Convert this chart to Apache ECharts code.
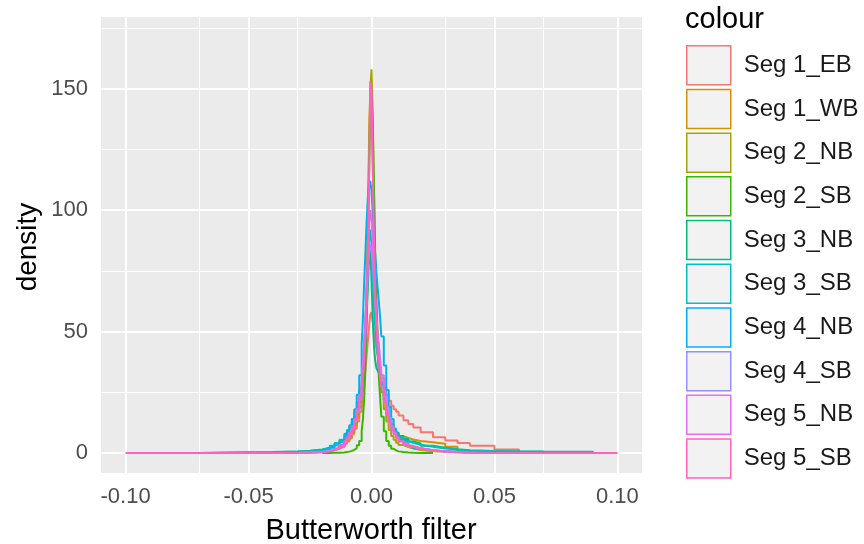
<!DOCTYPE html>
<html>
<head>
<meta charset="utf-8">
<script src="https://cdn.jsdelivr.net/npm/echarts@6/dist/echarts.min.js"></script>
<style>html,body{margin:0;padding:0;background:#fff;}#c{width:864px;height:544px;}</style>
</head>
<body>
<div id="c"></div>
<script>
// bin edges (x) shared by all series
const binEdges = [-0.100,-0.070,-0.050,-0.040,-0.030,-0.025,-0.020,-0.017,-0.015,-0.013,
  -0.011,-0.010,-0.009,-0.008,-0.007,-0.006,-0.005,
  -0.0040,-0.0035,-0.0030,-0.0025,-0.0020,-0.0015,-0.0010,-0.0005,0,0.0005,0.0010,0.0015,0.0020,0.0025,0.0030,0.0035,
  0.004,0.005,0.006,0.007,0.008,0.009,0.010,
  0.011,0.013,0.015,0.017,0.020,0.025,0.030,0.035,0.040,0.050,0.060,0.070,0.090,
  0.100];

const seriesNames = ['Seg 1_EB','Seg 1_WB','Seg 2_NB','Seg 2_SB','Seg 3_NB','Seg 3_SB','Seg 4_NB','Seg 4_SB','Seg 5_NB','Seg 5_SB'];
const seriesColors = ['#F8766D','#D89000','#A3A500','#39B600','#00BF7D','#00BFC4','#00B0F6','#9590FF','#E76BF3','#FF62BC'];

const seg1EB = [null,null,null,null,0.2,0.4,0.8,1.3,1.9,2.7,
  3.8,4.8,6,7.8,10,13,17,
  21,25,29,34,40,46,52,57,58,54,50,46,43,40,37,34.5,
  31,27,24,21.5,19.5,18,17,
  15.5,13.5,12,10.5,8.6,6.5,5.2,4.2,3.0,1.5,null,null,null];
const seg1WB = [null,null,null,null,0.2,0.4,0.8,1.4,2,3,
  4.2,5.2,6.5,8.5,11,14.5,19,
  24,30,38,48,64,90,130,149,142,118,92,72,58,48,41,35,
  28,22,17.5,14,11.5,9.5,8.2,
  7,6.2,5.6,5,4.5,3.8,2.6,null,null,null,null,null,null];
const seg2NB = [null,null,null,0.1,0.3,0.5,0.9,1.5,2.2,3.2,
  4.5,5.5,7,9,12,16,21,
  27,33,41,52,68,92,122,149,158,140,110,82,62,49,40,33,
  25,18,13,9.5,7,5.5,4.3,
  3.3,2.5,1.9,1.3,0.8,0.5,0.3,0.15,0.08,null,null,null,null];
const seg2SB = [null,null,null,null,null,null,0.05,0.1,0.15,0.25,
  0.4,0.6,0.9,1.3,2,3.2,5,
  9,14,22,34,52,80,115,140,148,135,108,80,58,42,31,23,
  15,9,5,3,1.8,1.1,0.7,
  0.4,0.25,0.15,0.08,0.03,null,null,null,null,null,null,null,null];
const seg3NB = [null,0.3,0.4,0.7,1.0,1.5,2.2,3,4,5.2,
  7.5,8.8,10.5,12.5,15,18,22,
  27,32,38,46,56,68,80,84,72,55,44,38,35,34,33,32,
  29,24,19,15,12,10,8.5,
  7,5.8,4.8,4,3,2.2,1.6,1.2,0.9,0.7,0.6,0.5,null];
const seg3SB = [null,0.25,0.35,0.6,0.9,1.4,2.1,3,4.2,5.5,
  8,9.5,11.5,14,17,21,26,
  31,37,44,53,64,77,89,92,86,72,60,52,46,41,37,33,
  28,22,17,13.5,11,9,7.5,
  6.2,5,4.2,3.4,2.6,1.9,1.4,1.0,0.8,0.6,0.5,0.4,null];
const seg4NB = [null,null,null,0.2,0.4,0.7,1.3,2.2,3.2,4.5,
  6.5,8.5,11,14,18,24,32,
  45,55,70,82,95,105,110,112,108,98,90,82,74,68,62,56,
  48,36,26,19,14,10,7.5,
  5.5,4,3,2,1.2,0.8,0.5,0.4,null,null,null,null,null];
const seg4SB = [null,null,null,null,0.2,0.4,0.9,1.5,2.3,3.4,
  5,6.5,8.5,11,14,18,24,
  30,37,45,54,64,74,82,86,84,78,70,62,55,49,44,39,
  32,25,19,14.5,11,8.5,6.5,
  5,3.7,2.7,1.9,1.2,0.7,0.4,0.2,null,null,null,null,null];
const seg5NB = [null,null,null,null,0.2,0.4,0.8,1.4,2.1,3.2,
  4.6,6,7.8,10,13,17,22,
  28,35,43,53,66,80,94,100,97,86,74,63,54,47,41,36,
  30,23,17,13,10,7.8,6.2,
  4.8,3.5,2.6,1.8,1.1,0.6,0.3,null,null,null,null,null,null];
const seg5SB = [0,0,0.05,0.1,0.2,0.4,0.7,1.2,1.8,2.8,
  5,6.5,8.5,11,14,18,23,
  27,32,38,47,61,82,112,153,150,118,88,67,53,43,36,31,
  27,21,16,12.5,10,8,6.5,
  5,3.8,2.8,2,1.2,0.6,0.3,0.15,0.05,0,0,0,0];

const seriesValues = [seg1EB,seg1WB,seg2NB,seg2SB,seg3NB,seg3SB,seg4NB,seg4SB,seg5NB,seg5SB];

const xTicks = [-0.10,-0.05,0.00,0.05,0.10];
const xMinor = [-0.075,-0.025,0.025,0.075];
const yTicks = [0,50,100,150];
const yMinor = [25,75,125,175];

function stepData(vals){
  const out = [];
  let first = -1, last = -1;
  vals.forEach((v,i)=>{ if(v!==null){ if(first<0) first=i; last=i; } });
  out.push([binEdges[first], 0]);
  for(let i=first;i<=last;i++) out.push([binEdges[i], vals[i]]);
  out.push([binEdges[last+1], 0]);
  return out;
}

const font = 'Liberation Sans, Arial, sans-serif';
const gridLines = [];
xTicks.forEach(v=>gridLines.push({xAxis:v, lineStyle:{width:2}}));
xMinor.forEach(v=>gridLines.push({xAxis:v, lineStyle:{width:1}}));
yTicks.forEach(v=>gridLines.push({yAxis:v, lineStyle:{width:2}}));
yMinor.forEach(v=>gridLines.push({yAxis:v, lineStyle:{width:1}}));

const series = [{
  type:'line', name:'__grid', data:[[0,0]], symbol:'none', silent:true, z:1,
  lineStyle:{opacity:0},
  markLine:{silent:true, symbol:['none','none'], z:1, animation:false,
    label:{show:false}, lineStyle:{color:'#FFFFFF', type:'solid'}, emphasis:{disabled:true},
    data:gridLines}
}];
seriesNames.forEach((n,i)=>{
  series.push({type:'line', name:n, step:'end', symbol:'none', z:3,
    data:stepData(seriesValues[i]),
    lineStyle:{color:seriesColors[i], width:2}, itemStyle:{color:seriesColors[i]},
    emphasis:{disabled:true}});
});

const chart = echarts.init(document.getElementById('c'));
chart.setOption({
  animation:false,
  grid:{left:101, right:222, top:17, bottom:71, show:true, backgroundColor:'#EBEBEB', borderWidth:0},
  xAxis:{type:'value', min:-0.11, max:0.11,
    axisLine:{show:false}, splitLine:{show:false},
    axisTick:{show:true, length:7, customValues:xTicks, lineStyle:{color:'#333333', width:1.5}},
    axisLabel:{customValues:xTicks, margin:13, color:'#4D4D4D', fontSize:22, fontFamily:font,
      formatter:v=>v.toFixed(2)}},
  yAxis:{type:'value', min:-8.2, max:179.5,
    axisLine:{show:false}, splitLine:{show:false},
    axisTick:{show:true, length:7, customValues:yTicks, lineStyle:{color:'#333333', width:1.5}},
    axisLabel:{customValues:yTicks, margin:13, color:'#4D4D4D', fontSize:22, fontFamily:font}},
  legend:{orient:'vertical', left:686, top:45, padding:0, icon:'rect', itemWidth:44, itemHeight:39, itemGap:3.2,
    selectedMode:false,
    itemStyle:{color:'#F2F2F2', borderWidth:1.5},
    textStyle:{fontSize:24, color:'#1A1A1A', fontFamily:font, padding:[0,0,0,8]},
    data:seriesNames.map((n,i)=>({name:n, itemStyle:{color:'#F2F2F2', borderColor:seriesColors[i], borderWidth:1.5}}))},
  graphic:[
    {type:'text', left:685, top:5, style:{text:'colour', fontSize:29, fill:'#000', fontFamily:font}},
    {type:'text', x:371, y:531, style:{text:'Butterworth filter', fontSize:29, fill:'#000', fontFamily:font, align:'center', verticalAlign:'middle'}},
    {type:'text', x:28, y:247, rotation:Math.PI/2, style:{text:'density', fontSize:28, fill:'#000', fontFamily:font, align:'center', verticalAlign:'middle'}}
  ],
  series:series
});
</script>
</body>
</html>
